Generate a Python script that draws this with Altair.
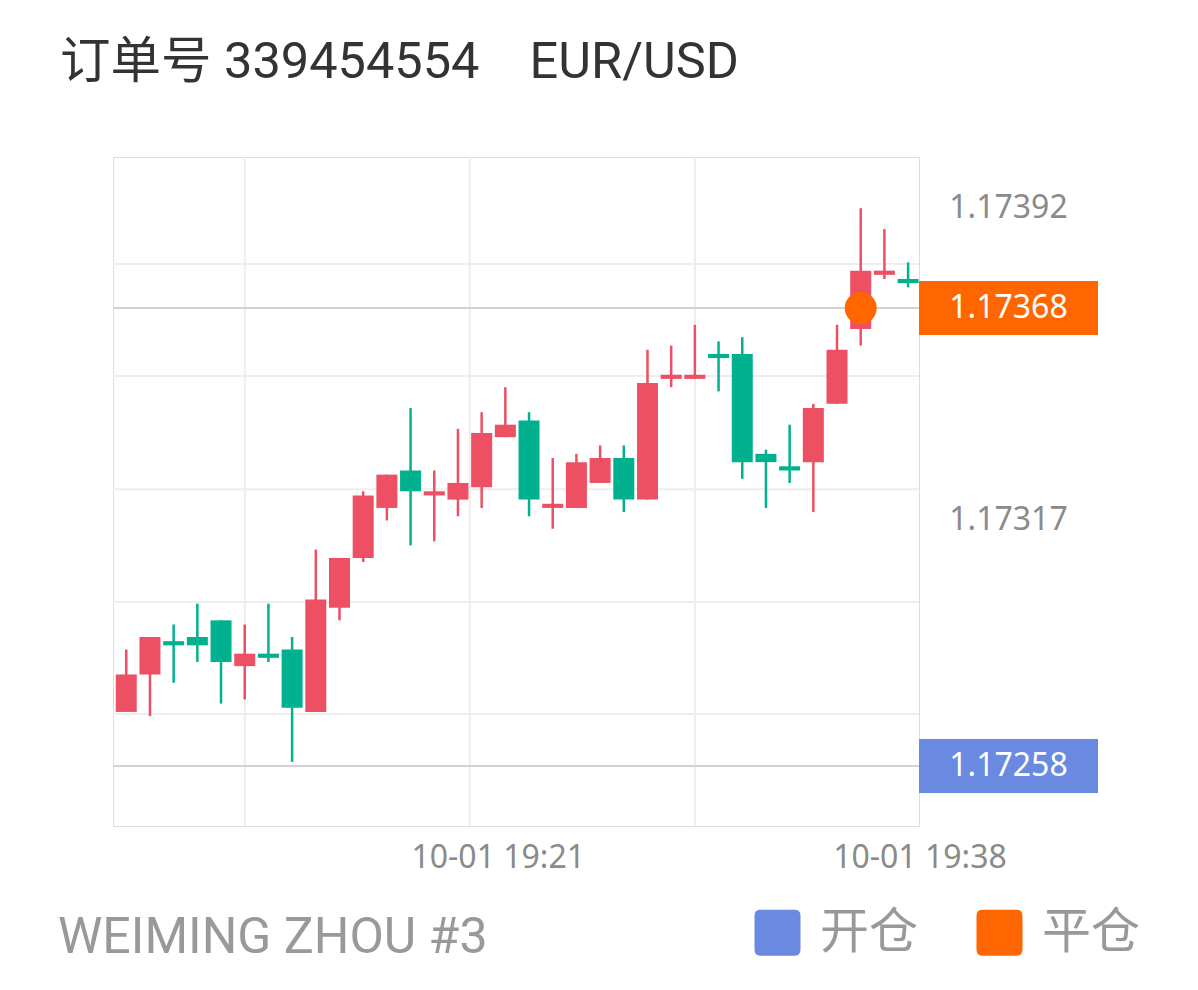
import altair as alt
import pandas as pd

# ---- data ----
idx = list(range(35))
opens = [1.17277, 1.17271, 1.17280, 1.17288, 1.17289, 1.17293, 1.17282, 1.17285, 1.17286, 1.17271,
         1.17296, 1.17308, 1.17320, 1.17329, 1.17323, 1.17322, 1.17325, 1.17337, 1.17341, 1.17320,
         1.17320, 1.17326, 1.17332, 1.17322, 1.17351, 1.17351, 1.17357, 1.17357, 1.17333, 1.17330,
         1.17331, 1.17345, 1.17363, 1.17376, 1.17375]
highs = [1.17279, 1.17286, 1.17289, 1.17292, 1.17297, 1.17293, 1.17292, 1.17297, 1.17289, 1.17310,
         1.17308, 1.17324, 1.17328, 1.17344, 1.17329, 1.17339, 1.17343, 1.17349, 1.17343, 1.17332,
         1.17333, 1.17335, 1.17335, 1.17358, 1.17359, 1.17364, 1.17360, 1.17361, 1.17334, 1.17340,
         1.17345, 1.17364, 1.17392, 1.17387, 1.17379]
lows = [1.17269, 1.17271, 1.17270, 1.17278, 1.17283, 1.17273, 1.17274, 1.17283, 1.17259, 1.17271,
        1.17293, 1.17307, 1.17317, 1.17311, 1.17312, 1.17318, 1.17320, 1.17337, 1.17318, 1.17315,
        1.17320, 1.17326, 1.17319, 1.17322, 1.17349, 1.17351, 1.17348, 1.17327, 1.17320, 1.17326,
        1.17319, 1.17345, 1.17359, 1.17375, 1.17373]
closes = [1.17272, 1.17280, 1.17289, 1.17287, 1.17287, 1.17283, 1.17285, 1.17284, 1.17272, 1.17298,
          1.17308, 1.17323, 1.17328, 1.17324, 1.17324, 1.17326, 1.17338, 1.17340, 1.17322, 1.17321,
          1.17331, 1.17332, 1.17322, 1.17350, 1.17352, 1.17352, 1.17356, 1.17331, 1.17331, 1.17329,
          1.17344, 1.17358, 1.17377, 1.17377, 1.17374]

grid_prices = [1.173786, 1.173517, 1.173245, 1.172974, 1.172705]
grid_idx = [6.0, 15.5, 25.0]

trade_types = ["开仓", "平仓"]
trade_prices = [1.17258, 1.17368]
trade_labels = ["1.17258", "1.17368"]
close_marker_idx = [32]
close_marker_price = [1.17368]

axis_label_prices = [1.17392, 1.17317]
axis_label_texts = ["1.17392", "1.17317"]

time_labels = ["10-01 19:21", "10-01 19:38"]
time_label_idx = [16.7, 34.5]

title_text = "订单号 339454554" + "\u00a0" * 4 + "EUR/USD"
footer_text = "WEIMING ZHOU #3"

RED = "#EC5062"
GREEN = "#00B18F"
BLUE = "#6A89E1"
ORANGE = "#FF6600"
CJK = "Noto Sans CJK SC"

candles = pd.DataFrame({"i": idx, "open": opens, "high": highs, "low": lows, "close": closes})

xs = alt.Scale(domain=[0.44, 34.46], padding=0, nice=False, zero=False)
ys = alt.Scale(domain=[1.172436, 1.174043], nice=False, zero=False)

rounded_sq = "M-0.74,-1H0.74Q1,-1,1,-0.74V0.74Q1,1,0.74,1H-0.74Q-1,1,-1,0.74V-0.74Q-1,-1,-0.74,-1Z"
box_path = "M-1,-0.3017H1V0.3017H-1Z"

legend = alt.Legend(
    title=None, orient="none", legendX=640, legendY=751, direction="horizontal",
    symbolType=rounded_sq, symbolSize=2116, symbolStrokeWidth=0, symbolOpacity=1,
    labelFont=CJK, labelFontSize=49, labelColor="#999999", labelOffset=18,
    columnPadding=56, padding=0, labelLimit=400,
)
color_enc = alt.Color("type:N", scale=alt.Scale(domain=trade_types, range=[BLUE, ORANGE]), legend=legend)

hgrid = alt.Chart(pd.DataFrame({"p": grid_prices})).mark_rule(color="#EEEEEE", strokeWidth=2).encode(
    y=alt.Y("p:Q", scale=ys, axis=None))
vgrid = alt.Chart(pd.DataFrame({"g": grid_idx})).mark_rule(color="#EEEEEE", strokeWidth=2).encode(
    x=alt.X("g:Q", scale=xs, axis=None))

trades = pd.DataFrame({"type": trade_types, "p": trade_prices, "lab": trade_labels})
price_lines = alt.Chart(trades).mark_rule(color="#D2D2D2", strokeWidth=2).encode(
    y=alt.Y("p:Q", scale=ys, axis=None))

cond = alt.condition("datum.close >= datum.open", alt.value(RED), alt.value(GREEN))
wicks = alt.Chart(candles).mark_rule(strokeWidth=2.5, clip=True).encode(
    x=alt.X("i:Q", scale=xs, axis=None),
    y=alt.Y("low:Q", scale=ys, axis=None), y2="high:Q", color=cond)
bodies = alt.Chart(candles).mark_bar(size=21, clip=True).encode(
    x=alt.X("i:Q", scale=xs, axis=None),
    y=alt.Y("open:Q", scale=ys, axis=None), y2="close:Q", color=cond)

marker = alt.Chart(pd.DataFrame({"type": ["平仓"], "i": close_marker_idx, "p": close_marker_price})).mark_point(
    filled=True, shape="circle", size=1024, opacity=1, strokeWidth=0).encode(
    x=alt.X("i:Q", scale=xs, axis=None), y=alt.Y("p:Q", scale=ys, axis=None), color=color_enc)

boxes = alt.Chart(trades).mark_point(
    filled=True, shape=box_path, size=32041, opacity=1, strokeWidth=0, clip=False).encode(
    x=alt.value(895.5), y=alt.Y("p:Q", scale=ys, axis=None), color=color_enc)
box_text = alt.Chart(trades).mark_text(
    color="white", font="Noto Sans", fontSize=32, align="center", baseline="middle").encode(
    x=alt.value(895.5), y=alt.Y("p:Q", scale=ys, axis=None), text="lab:N")

ylabels = alt.Chart(pd.DataFrame({"p": axis_label_prices, "t": axis_label_texts})).mark_text(
    color="#8A8A8A", font="Noto Sans", fontSize=32, align="center", baseline="middle").encode(
    x=alt.value(895.5), y=alt.Y("p:Q", scale=ys, axis=None), text="t:N")

xlabels = alt.Chart(pd.DataFrame({"g": time_label_idx, "t": time_labels})).mark_text(
    color="#8A8A8A", font="Noto Sans", fontSize=32, align="center", baseline="alphabetic").encode(
    x=alt.X("g:Q", scale=xs, axis=None), y=alt.value(711), text="t:N")

footer = alt.Chart(pd.DataFrame({"t": [footer_text]})).mark_text(
    color="#999999", font="Roboto", fontSize=50, align="left", baseline="alphabetic").encode(
    x=alt.value(-55), y=alt.value(796), text="t:N")

chart = alt.layer(
    hgrid, vgrid, price_lines, wicks, bodies, marker, boxes, box_text, ylabels, xlabels, footer
).properties(
    width=806, height=669,
    title=alt.TitleParams(
        title_text, anchor="start", frame="group", dx=-53, offset=28, baseline="alphabetic",
        font=f"Roboto, '{CJK}'", fontSize=50.5, fontWeight="normal", color="#333333"),
    padding={"left": 105, "top": 149, "right": 260, "bottom": 150},
    autosize="none",
).configure_view(stroke="#EEEEEE", strokeWidth=2).configure(background="white")

chart.save("out.html", embed_options={"renderer": "svg", "actions": False})
